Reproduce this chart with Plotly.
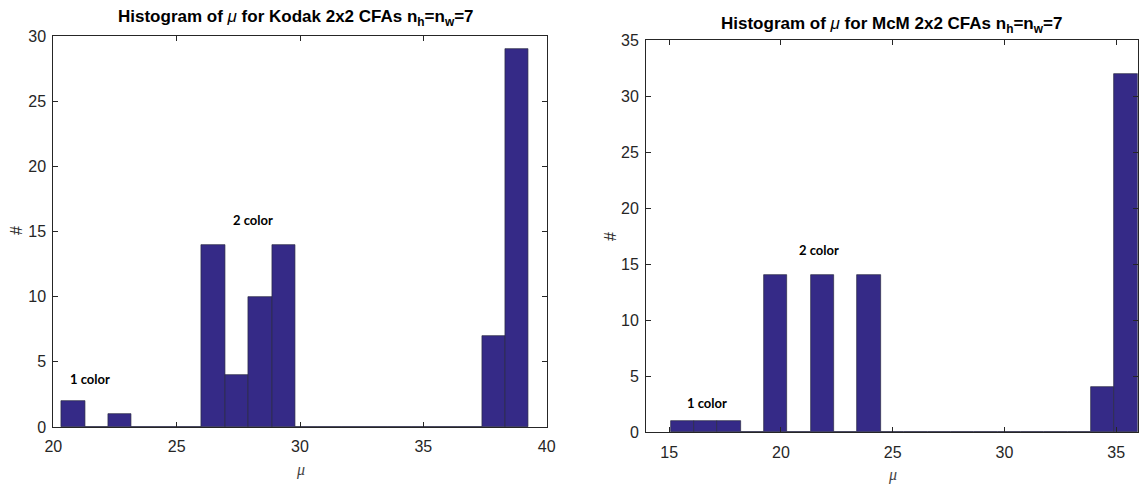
import plotly.graph_objects as go

# histogram bins (centres) and counts
kodak_centres = [20.813, 21.760, 22.706, 23.653, 24.599, 25.546, 26.492, 27.439, 28.385, 29.332,
                 30.278, 31.225, 32.171, 33.118, 34.064, 35.011, 35.957, 36.904, 37.850, 38.797]
kodak_counts = [2, 0, 1, 0, 0, 0, 14, 4, 10, 14, 0, 0, 0, 0, 0, 0, 0, 0, 7, 29]
kodak_width = 0.9465

mcm_centres = [15.5825, 16.6275, 17.6725, 18.7175, 19.7625, 20.8075, 21.8525, 22.8975, 23.9425, 24.9875,
               26.0325, 27.0775, 28.1225, 29.1675, 30.2125, 31.2575, 32.3025, 33.3475, 34.3925, 35.4375]
mcm_counts = [1, 1, 1, 0, 14, 0, 14, 0, 14, 0, 0, 0, 0, 0, 0, 0, 0, 0, 4, 32]
mcm_width = 1.045

kodak_xticks = [20, 25, 30, 35, 40]
kodak_yticks = [0, 5, 10, 15, 20, 25, 30]
mcm_xticks = [15, 20, 25, 30, 35]
mcm_yticks = [0, 5, 10, 15, 20, 25, 30, 35]

BAR = '#352a87'
EDGE = '#2a2a44'
AX = '#262626'
W, H = 1140, 487

fig = go.Figure()

fig.add_trace(go.Bar(x=kodak_centres, y=kodak_counts, width=kodak_width,
                     marker=dict(color=BAR, line=dict(color=EDGE, width=0.7)),
                     xaxis='x', yaxis='y', showlegend=False))
fig.add_trace(go.Bar(x=mcm_centres, y=mcm_counts, width=mcm_width,
                     marker=dict(color=BAR, line=dict(color=EDGE, width=0.7)),
                     xaxis='x2', yaxis='y2', showlegend=False))

tick_font = dict(family='Liberation Sans, Arial', size=16, color=AX)
axis_style = dict(showline=True, linecolor=AX, linewidth=1, mirror='allticks', automargin=False,
                  ticks='inside', ticklen=5, tickcolor=AX, showgrid=False, zeroline=False,
                  tickfont=tick_font)

fig.update_layout(
    width=W, height=H,
    margin=dict(l=0, r=0, t=0, b=0),
    paper_bgcolor='white', plot_bgcolor='white',
    bargap=0,
    xaxis=dict(domain=[53.3 / W, 546.7 / W], range=[20, 40], tickvals=kodak_xticks,
               anchor='y', ticklabelstandoff=5, **axis_style),
    yaxis=dict(domain=[(H - 427) / H, (H - 36) / H], range=[0, 30], tickvals=kodak_yticks,
               anchor='x', ticklabelstandoff=3, **axis_style),
    xaxis2=dict(domain=[646 / W, 1137.7 / W], range=[13.96, 35.96], tickvals=mcm_xticks,
                anchor='y2', ticklabelstandoff=5, **axis_style),
    yaxis2=dict(domain=[(H - 432.3) / H, (H - 40) / H], range=[0, 35], tickvals=mcm_yticks,
                anchor='x2', ticklabelstandoff=3, **axis_style),
)

title_font = dict(family='Liberation Sans, Arial', size=17, color='black')
fig.add_annotation(text='<b>Histogram of </b><i>μ</i><b> for Kodak 2x2 CFAs n<sub>h</sub>=n<sub>w</sub>=7</b>',
                   xref='paper', yref='paper', x=296 / W, y=(H - 18) / H,
                   xanchor='center', yanchor='middle', showarrow=False, font=title_font)
fig.add_annotation(text='<b>Histogram of </b><i>μ</i><b> for McM 2x2 CFAs n<sub>h</sub>=n<sub>w</sub>=7</b>',
                   xref='paper', yref='paper', x=891.5 / W, y=(H - 25) / H,
                   xanchor='center', yanchor='middle', showarrow=False, font=title_font)

# axis labels
lab_font = dict(family='Liberation Serif', size=16, color='#444')
fig.add_annotation(text='<i>μ</i>', xref='paper', yref='paper', x=300 / W, y=(H - 470) / H,
                   xanchor='center', yanchor='middle', showarrow=False, font=lab_font)
fig.add_annotation(text='<i>μ</i>', xref='paper', yref='paper', x=892 / W, y=(H - 475) / H,
                   xanchor='center', yanchor='middle', showarrow=False, font=lab_font)
hash_font = dict(family='Liberation Sans, Arial', size=16, color=AX)
fig.add_annotation(text='#', xref='paper', yref='paper', x=16 / W, y=(H - 231) / H,
                   xanchor='center', yanchor='middle', showarrow=False, textangle=-90, font=hash_font)
fig.add_annotation(text='#', xref='paper', yref='paper', x=610 / W, y=(H - 237) / H,
                   xanchor='center', yanchor='middle', showarrow=False, textangle=-90, font=hash_font)

# group labels
note_font = dict(family='Lato', size=13, color='black')
fig.add_annotation(text='<b>1 color</b>', x=21.47, y=3.68, xref='x', yref='y', showarrow=False, font=note_font)
fig.add_annotation(text='<b>2 color</b>', x=28.09, y=15.87, xref='x', yref='y', showarrow=False, font=note_font)
fig.add_annotation(text='<b>1 color</b>', x=16.67, y=2.64, xref='x2', yref='y2', showarrow=False, font=note_font)
fig.add_annotation(text='<b>2 color</b>', x=21.68, y=16.28, xref='x2', yref='y2', showarrow=False, font=note_font)

# drop the browser's default body margin so the 1140x487 figure sits at the page origin
fig.write_html("out.html", config={'displayModeBar': False},
               post_script="document.body.style.margin='0';")
